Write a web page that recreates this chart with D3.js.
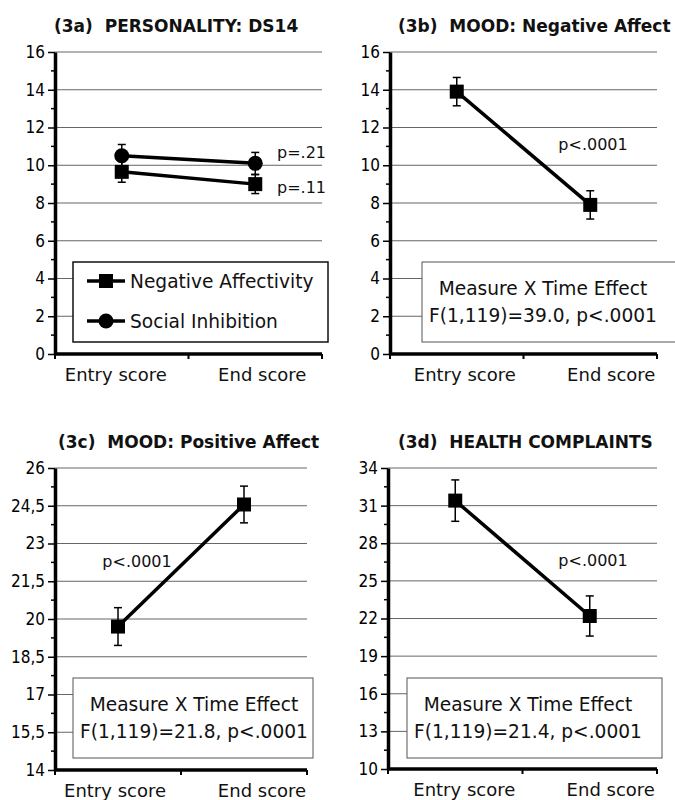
<!DOCTYPE html>
<html>
<head>
<meta charset="utf-8">
<script src="https://cdn.jsdelivr.net/npm/d3@7"></script>
<style>
	body { margin: 0; background: #fff; }
	text { font-family: "DejaVu Sans", sans-serif; fill: #111; }
</style>
</head>
<body>
<script>
// * DATA

const categories = ["Entry score", "End score"];
const seriesNames = ["Negative Affectivity", "Social Inhibition"];

// (3a) personality DS14
const ds14Ticks = [0, 2, 4, 6, 8, 10, 12, 14, 16];
const negAffectivity = [9.65, 9.0];
const negAffectivityErr = [0.55, 0.5];
const socialInhibition = [10.5, 10.1];
const socialInhibitionErr = [0.6, 0.58];

// (3b) mood: negative affect
const negAffectTicks = [0, 2, 4, 6, 8, 10, 12, 14, 16];
const negAffect = [13.9, 7.9];
const negAffectErr = [0.75, 0.75];

// (3c) mood: positive affect
const posAffectTicks = [14, 15.5, 17, 18.5, 20, 21.5, 23, 24.5, 26];
const posAffect = [19.7, 24.55];
const posAffectErr = [0.75, 0.73];

// (3d) health complaints
const healthTicks = [10, 13, 16, 19, 22, 25, 28, 31, 34];
const health = [31.4, 22.2];
const healthErr = [1.65, 1.6];

const titles = [
	"(3a)\u00a0\u00a0PERSONALITY: DS14",
	"(3b)\u00a0\u00a0MOOD: Negative Affect",
	"(3c)\u00a0\u00a0MOOD: Positive Affect",
	"(3d)\u00a0\u00a0HEALTH COMPLAINTS",
];
const effectLines = [
	null,
	["Measure X Time Effect", "F(1,119)=39.0, p<.0001"],
	["Measure X Time Effect", "F(1,119)=21.8, p<.0001"],
	["Measure X Time Effect", "F(1,119)=21.4, p<.0001"],
];

// * SVG CANVAS
const width = 675;
const height = 800;

const svg = d3
	.select("body")
	.append("svg")
	.attr("width", width)
	.attr("height", height)
	.style("display", "block");

// comma as decimal mark, like the original
const fmt = d3
	.formatLocale({ decimal: ",", thousands: ".", grouping: [3], currency: ["", ""] })
	.format(".1~f");

// * PANELS (layout only, values come from the arrays above)
const panels = [
	{
		left: 55, right: 322, top: 52, bottom: 354,
		ticks: ds14Ticks,
		title: titles[0], titleX: 54, titleY: 32,
		labelShift: [-6, 7],
		series: [
			{ values: negAffectivity, errs: negAffectivityErr, marker: "square" },
			{ values: socialInhibition, errs: socialInhibitionErr, marker: "circle" },
		],
		pLabels: [
			{ text: "p=.21", x: 277, y: 158, anchor: "start" },
			{ text: "p=.11", x: 277, y: 193, anchor: "start" },
		],
		legend: { x: 73, y: 262, w: 255, h: 80 },
	},
	{
		left: 390, right: 657, top: 52, bottom: 354,
		ticks: negAffectTicks,
		title: titles[1], titleX: 398, titleY: 32,
		labelShift: [8, 21],
		series: [{ values: negAffect, errs: negAffectErr, marker: "square" }],
		pLabels: [{ text: "p<.0001", x: 593, y: 150, anchor: "middle" }],
		box: { x: 422, y: 262, w: 256, h: 80, cx: 543, lines: effectLines[1] },
	},
	{
		left: 55, right: 307, top: 468, bottom: 770,
		ticks: posAffectTicks,
		title: titles[2], titleX: 58, titleY: 448,
		labelShift: [-3, 18],
		series: [{ values: posAffect, errs: posAffectErr, marker: "square" }],
		pLabels: [{ text: "p<.0001", x: 137, y: 567, anchor: "middle" }],
		box: { x: 73, y: 678, w: 240, h: 80, cx: 194, lines: effectLines[2] },
	},
	{
		left: 388, right: 657, top: 468, bottom: 769,
		ticks: healthTicks,
		title: titles[3], titleX: 398, titleY: 448,
		labelShift: [9, 21],
		series: [{ values: health, errs: healthErr, marker: "square" }],
		pLabels: [{ text: "p<.0001", x: 593, y: 566, anchor: "middle" }],
		box: { x: 407, y: 678, w: 255, h: 80, cx: 528, lines: effectLines[3] },
	},
];

function drawMarker(sel, type, cx, cy) {
	if (type === "circle") {
		sel.append("circle")
			.attr("cx", cx)
			.attr("cy", cy)
			.attr("r", 7.5)
			.attr("fill", "#000");
	} else {
		sel.append("rect")
			.attr("x", cx - 7)
			.attr("y", cy - 7)
			.attr("width", 14)
			.attr("height", 14)
			.attr("fill", "#000");
	}
}

function drawPanel(p) {
	const g = svg.append("g");

	const x = d3.scaleBand().domain(categories).range([p.left, p.right]);
	const y = d3
		.scaleLinear()
		.domain(d3.extent(p.ticks))
		.range([p.bottom, p.top]);

	// * Gridlines
	g.append("g")
		.selectAll("line")
		.data(p.ticks.slice(1))
		.join("line")
		.attr("x1", p.left)
		.attr("x2", p.right)
		.attr("y1", (d) => y(d))
		.attr("y2", (d) => y(d))
		.attr("stroke", "#666")
		.attr("stroke-width", 1);

	// * Title
	g.append("text")
		.attr("x", p.titleX)
		.attr("y", p.titleY)
		.attr("font-size", "17px")
		.attr("font-weight", "bold")
		.attr("fill", "#000")
		.text(p.title);

	// * Legend / effect box
	if (p.legend) {
		const L = p.legend;
		g.append("rect")
			.attr("x", L.x)
			.attr("y", L.y)
			.attr("width", L.w)
			.attr("height", L.h)
			.attr("fill", "#fff")
			.attr("stroke", "#111")
			.attr("stroke-width", 1.5);
		const items = g
			.selectAll(".legend-item")
			.data(p.series)
			.join("g")
			.attr("class", "legend-item")
			.attr("transform", (d, i) => `translate(${L.x}, ${L.y + 19 + i * 40})`);
		items.append("line")
			.attr("x1", 14)
			.attr("x2", 52)
			.attr("stroke", "#000")
			.attr("stroke-width", 3.5);
		items.each(function (d) {
			drawMarker(d3.select(this), d.marker, 33, 0);
		});
		items.append("text")
			.attr("x", 57)
			.attr("y", 6.5)
			.attr("font-size", "18.6px")
			.text((d, i) => seriesNames[i]);
	}
	if (p.box) {
		const B = p.box;
		g.append("rect")
			.attr("x", B.x)
			.attr("y", B.y)
			.attr("width", B.w)
			.attr("height", B.h)
			.attr("fill", "#fff")
			.attr("stroke", "#555")
			.attr("stroke-width", 1);
		g.selectAll(".box-line")
			.data(B.lines)
			.join("text")
			.attr("class", "box-line")
			.attr("x", B.cx)
			.attr("y", (d, i) => B.y + 33 + i * 27)
			.attr("text-anchor", "middle")
			.attr("font-size", "18.6px")
			.text((d) => d);
	}

	// * Y AXIS
	const minor = d3.pairs(p.ticks).map(([a, b]) => (a + b) / 2);
	g.append("g")
		.attr("transform", `translate(${p.left},0)`)
		.selectAll("line")
		.data(minor)
		.join("line")
		.attr("x1", -4)
		.attr("x2", 0)
		.attr("y1", (d) => y(d))
		.attr("y2", (d) => y(d))
		.attr("stroke", "#000")
		.attr("stroke-width", 1.5);

	const yAxis = g
		.append("g")
		.attr("transform", `translate(${p.left},0)`)
		.call(
			d3
				.axisLeft(y)
				.tickValues(p.ticks)
				.tickFormat(fmt)
				.tickSize(7)
				.tickSizeOuter(0)
				.tickPadding(3)
		);
	yAxis.select(".domain").attr("stroke-width", 3.5);
	yAxis.selectAll(".tick line").attr("stroke-width", 1.5);
	yAxis.selectAll(".tick text")
		.style("font-size", "17px")
		.style("font-family", "'DejaVu Sans Condensed', 'DejaVu Sans', sans-serif")
		.style("font-stretch", "condensed")
		.style("fill", "#000");

	// * X AXIS
	const xAxis = g
		.append("g")
		.attr("transform", `translate(0,${p.bottom})`)
		.call(d3.axisBottom(x).tickSize(0).tickPadding(14.5));
	xAxis.select(".domain").remove();
	xAxis.selectAll(".tick text")
		.attr("font-size", "18px")
		.attr("fill", "#111")
		.attr("dx", (d, i) => p.labelShift[i]);

	g.append("line")
		.attr("x1", p.left)
		.attr("x2", p.right)
		.attr("y1", p.bottom)
		.attr("y2", p.bottom)
		.attr("stroke", "#000")
		.attr("stroke-width", 3.5);
	const edges = [p.left, (p.left + p.right) / 2, p.right];
	g.selectAll(".xedge")
		.data(edges)
		.join("line")
		.attr("class", "xedge")
		.attr("x1", (d) => d)
		.attr("x2", (d) => d)
		.attr("y1", p.bottom)
		.attr("y2", p.bottom + 5)
		.attr("stroke", "#000")
		.attr("stroke-width", 2);

	// * PLOT
	const cx = (i) => x(categories[i]) + x.bandwidth() / 2;
	const line = d3
		.line()
		.x((d, i) => cx(i))
		.y((d) => y(d));

	p.series.forEach((s) => {
		// error bars
		const eb = g.append("g");
		s.values.forEach((v, i) => {
			const xx = cx(i);
			eb.append("line")
				.attr("x1", xx).attr("x2", xx)
				.attr("y1", y(v - s.errs[i])).attr("y2", y(v + s.errs[i]))
				.attr("stroke", "#000").attr("stroke-width", 1.5);
			[v - s.errs[i], v + s.errs[i]].forEach((e) => {
				eb.append("line")
					.attr("x1", xx - 4).attr("x2", xx + 4)
					.attr("y1", y(e)).attr("y2", y(e))
					.attr("stroke", "#000").attr("stroke-width", 1.5);
			});
		});
		g.append("path")
			.datum(s.values)
			.attr("d", line)
			.attr("fill", "none")
			.attr("stroke", "#000")
			.attr("stroke-width", 3.5);
		s.values.forEach((v, i) => drawMarker(g, s.marker, cx(i), y(v)));
	});

	// * p-value labels
	g.selectAll(".plabel")
		.data(p.pLabels)
		.join("text")
		.attr("class", "plabel")
		.attr("x", (d) => d.x)
		.attr("y", (d) => d.y)
		.attr("text-anchor", (d) => d.anchor)
		.attr("font-size", "16px")
		.text((d) => d.text);
}

panels.forEach(drawPanel);
</script>
</body>
</html>
